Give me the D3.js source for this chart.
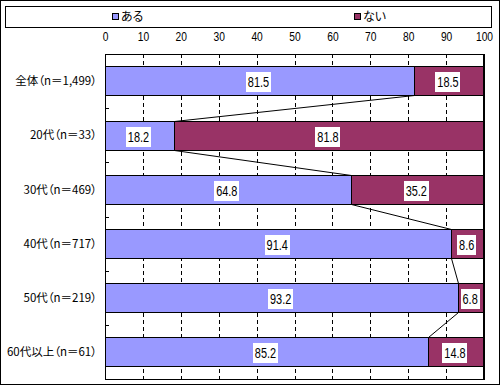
<!DOCTYPE html>
<html>
<head>
<meta charset="utf-8">
<script src="https://d3js.org/d3.v7.min.js"></script>
<style>
  body { margin: 0; background: #fff; }
  svg text { fill: #000; }
  .num { font-family: "Liberation Sans", Arial, sans-serif; }
  .jp { font-family: "Noto Sans CJK JP", sans-serif; font-feature-settings: "palt"; }
</style>
</head>
<body>
<svg id="chart"></svg>
<script>
var categories = ["全体（n＝1,499）", "20代（n＝33）", "30代（n＝469）", "40代（n＝717）", "50代（n＝219）", "60代以上（n＝61）"];
var aru = [81.5, 18.2, 64.8, 91.4, 93.2, 85.2];
var nai = [18.5, 81.8, 35.2, 8.6, 6.8, 14.8];
var seriesNames = ["ある", "ない"];
var colors = ["#9999ff", "#993366"];
var ticks = [0, 10, 20, 30, 40, 50, 60, 70, 80, 90, 100];

var W = 500, H = 385;
var margin = {top: 54, left: 105, right: 16, bottom: 6};
var width = W - margin.left - margin.right,
    height = H - margin.top - margin.bottom;

var svg = d3.select("#chart").attr("width", W).attr("height", H);

// outer frame
svg.append("rect").attr("x", 0.5).attr("y", 0.5).attr("width", W - 1).attr("height", H - 1)
  .attr("fill", "#fff").attr("stroke", "#000");

// legend
svg.append("rect").attr("x", 5.5).attr("y", 6.5).attr("width", 486).attr("height", 21)
  .attr("fill", "#fff").attr("stroke", "#000");
var legX = [112, 354];
seriesNames.forEach(function(n, i) {
  var g = svg.append("g").attr("transform", "translate(" + legX[i] + ",13)");
  g.append("rect").attr("x", 0.5).attr("y", 0.5).attr("width", 6).attr("height", 6)
    .attr("fill", colors[i]).attr("stroke", "#000");
  g.append("text").attr("class", "jp").attr("x", 9).attr("y", 3.5).attr("dy", "0.36em")
    .attr("font-size", "12px").text(n);
});

var x = d3.scaleLinear().domain([0, 100]).range([0, width]);
var y = d3.scaleBand().domain(categories).range([0, height]).paddingInner(0.46).paddingOuter(0.23);

var plot = svg.append("g").attr("transform", "translate(" + margin.left + "," + margin.top + ")");

// dashed gridlines
plot.selectAll(".grid").data(ticks.slice(1, -1)).enter().append("line")
  .attr("x1", function(d) { return Math.round(x(d)) + 0.5; })
  .attr("x2", function(d) { return Math.round(x(d)) + 0.5; })
  .attr("y1", 0).attr("y2", height)
  .attr("stroke", "#000").attr("stroke-dasharray", "4,3");

// top axis labels (narrowed glyphs)
var xAxis = d3.axisTop(x).tickValues(ticks).tickSize(0).tickPadding(0);
var ax = plot.append("g").call(xAxis);
ax.select(".domain").remove();
ax.selectAll(".tick text").attr("class", "num").attr("font-size", "12.5px").attr("fill", "#000")
  .attr("y", 0).attr("dy", 0)
  .attr("transform", "translate(0,-13) scale(0.82,1)");

// y axis with inside ticks at band boundaries
var bounds = categories.slice(1).map(function(c) { return y(c) - y.step() * y.paddingInner() / 2; });
plot.selectAll(".ytick").data(bounds).enter().append("line")
  .attr("x1", 0).attr("x2", 4)
  .attr("y1", function(d) { return Math.round(d) + 0.5; })
  .attr("y2", function(d) { return Math.round(d) + 0.5; })
  .attr("stroke", "#000");

// category labels
plot.selectAll(".cat").data(categories).enter().append("text")
  .attr("class", "jp")
  .attr("x", -8)
  .attr("y", function(d) { return y(d) + y.bandwidth() / 2; })
  .attr("dy", "0.36em")
  .attr("text-anchor", "end")
  .attr("font-size", "11.5px")
  .text(function(d) { return d; });

// bars
var rows = categories.map(function(c, i) {
  return {cat: c, segs: [{s: 0, v: aru[i], k: 0}, {s: aru[i], v: nai[i], k: 1}]};
});
var rowG = plot.selectAll(".row").data(rows).enter().append("g")
  .attr("transform", function(d) { return "translate(0," + Math.round(y(d.cat)) + ")"; });

rowG.selectAll("rect").data(function(d) { return d.segs; }).enter().append("rect")
  .attr("x", function(d) { return Math.round(x(d.s)) + 0.5; })
  .attr("y", 0.5)
  .attr("width", function(d) { return Math.round(x(d.s + d.v)) - Math.round(x(d.s)); })
  .attr("height", Math.round(y.bandwidth()))
  .attr("fill", function(d) { return colors[d.k]; })
  .attr("stroke", "#000");

// connector lines
var links = aru.slice(0, -1).map(function(v, i) { return [i, v, aru[i + 1]]; });
plot.selectAll(".link").data(links).enter().append("line")
  .attr("x1", function(d) { return Math.round(x(d[1])) + 0.5; })
  .attr("y1", function(d) { return Math.round(y(categories[d[0]])) + Math.round(y.bandwidth()) + 0.5; })
  .attr("x2", function(d) { return Math.round(x(d[2])) + 0.5; })
  .attr("y2", function(d) { return Math.round(y(categories[d[0] + 1])) + 0.5; })
  .attr("stroke", "#000");

// value labels in white boxes
var sx = 0.78;
rowG.selectAll(".lab").data(function(d) { return d.segs; }).enter().append("g")
  .each(function(d) {
    var g = d3.select(this);
    var cx = x(d.s + d.v / 2) - 1;
    var cy = y.bandwidth() / 2 + 1;
    var t = g.append("text").attr("class", "num").attr("font-size", "14px")
      .attr("transform", "translate(" + cx + "," + cy + ") scale(" + sx + ",1)")
      .attr("dy", "0.36em").attr("text-anchor", "middle")
      .text(d.v.toFixed(1));
    var w = t.node().getComputedTextLength() * sx;
    g.insert("rect", "text").attr("x", Math.round(cx - w / 2 - 2)).attr("y", Math.round(cy - 10))
      .attr("width", Math.round(w + 4)).attr("height", 20).attr("fill", "#fff");
  });

// plot frame
plot.append("rect").attr("x", 0.5).attr("y", 0.5).attr("width", Math.round(width) - 1).attr("height", Math.round(height))
  .attr("fill", "none").attr("stroke", "#000");
plot.append("line").attr("x1", Math.round(width) + 0.5).attr("x2", Math.round(width) + 0.5)
  .attr("y1", 0).attr("y2", height + 1).attr("stroke", "#000");
</script>
</body>
</html>
